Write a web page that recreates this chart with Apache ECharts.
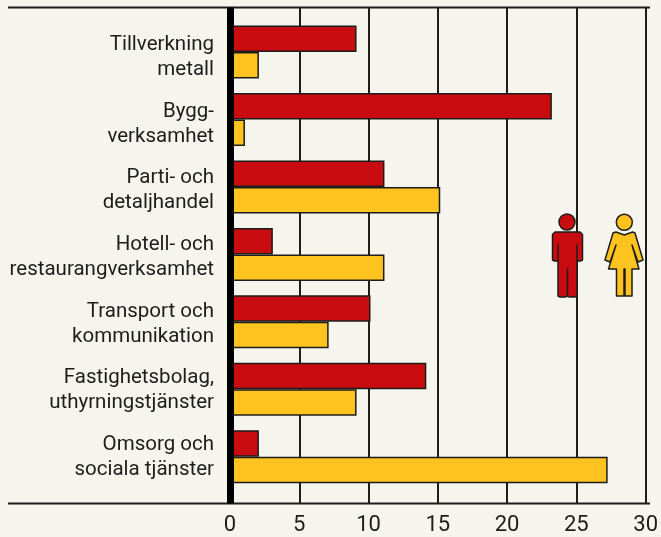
<!DOCTYPE html>
<html>
<head>
<meta charset="utf-8">
<style>
html, body { margin: 0; padding: 0; background: #f5f5ee; }
#chart { width: 661px; height: 537px; }
</style>
</head>
<body>
<div id="chart"></div>
<script src="https://cdn.jsdelivr.net/npm/echarts@6/dist/echarts.min.js"></script>
<script>
const categories = [
    'Tillverkning\nmetall',
    'Bygg-\nverksamhet',
    'Parti- och\ndetaljhandel',
    'Hotell- och\nrestaurangverksamhet',
    'Transport och\nkommunikation',
    'Fastighetsbolag,\nuthyrningstjänster',
    'Omsorg och\nsociala tjänster'
];
const men = [9, 23, 11, 3, 10, 14, 2];
const women = [2, 1, 15, 11, 7, 9, 27];

const RED = '#c90c0f';
const YELLOW = '#fec31f';
const INK = '#1d1d1b';
const FONT = 'Roboto';

const barStyle = color => ({ color: color, borderColor: INK, borderWidth: 1.5 });
const iconStyle = color => ({ fill: color, stroke: INK, lineWidth: 1.5, lineJoin: 'round' });

let myChart = echarts.init(document.getElementById('chart'));

myChart.setOption({
    animation: false,
    backgroundColor: '#f5f5ee',
    // grid 0: frame and ticks, grid 1: bars, grid 2: category labels (their spacing differs a little from the bars)
    grid: [
        { left: 230, width: 419.5, top: 7.5, height: 496 },
        { left: 231, width: 418.5, top: 18.4, height: 472 },
        { left: 230, width: 419.5, top: 24, height: 466.7 }
    ],
    xAxis: [{
        gridIndex: 0,
        type: 'value',
        min: 0,
        max: 30,
        interval: 5,
        axisLine: { show: false },
        axisTick: { show: false },
        axisLabel: {
            show: true,
            fontFamily: FONT,
            fontSize: 22,
            color: INK,
            margin: 11,
            hideOverlap: false
        },
        splitLine: { show: true, lineStyle: { color: INK, width: 2 } }
    }, {
        gridIndex: 1,
        type: 'value',
        min: 0,
        max: 30,
        show: false
    }, {
        gridIndex: 2,
        type: 'value',
        min: 0,
        max: 30,
        show: false
    }],
    yAxis: [{
        gridIndex: 0,
        type: 'value',
        z: 5,
        axisLine: { show: true, onZero: false, lineStyle: { color: '#000', width: 7, cap: 'butt' } },
        axisTick: { show: false },
        axisLabel: { show: false },
        splitLine: { show: false }
    }, {
        gridIndex: 1,
        type: 'category',
        inverse: true,
        data: categories,
        axisLine: { show: false },
        axisTick: { show: false },
        axisLabel: { show: false },
        splitLine: { show: false }
    }, {
        gridIndex: 2,
        type: 'category',
        inverse: true,
        data: categories,
        axisLine: { show: false },
        axisTick: { show: false },
        splitLine: { show: false },
        axisLabel: {
            fontFamily: FONT,
            fontSize: 20.5,
            lineHeight: 25,
            color: INK,
            align: 'right',
            margin: 16,
            interval: 0
        }
    }],
    series: [{
        name: 'Män',
        type: 'bar',
        xAxisIndex: 1,
        yAxisIndex: 1,
        barWidth: 26.5,
        barGap: 0,
        itemStyle: barStyle(RED),
        data: men
    }, {
        name: 'Kvinnor',
        type: 'bar',
        xAxisIndex: 1,
        yAxisIndex: 1,
        barWidth: 26.5,
        barGap: 0,
        itemStyle: barStyle(YELLOW),
        data: women
    }],
    graphic: [
        // top and bottom rules run out past the plot area
        { type: 'line', shape: { x1: 8, y1: 7.5, x2: 650, y2: 7.5 }, style: { stroke: INK, lineWidth: 2 } },
        { type: 'line', shape: { x1: 8, y1: 503.5, x2: 650, y2: 503.5 }, style: { stroke: INK, lineWidth: 2 } },
        // man
        { type: 'circle', z: 10, shape: { cx: 567, cy: 222, r: 8 }, style: iconStyle(RED) },
        {
            type: 'polygon', z: 10,
            shape: { points: [[555, 232], [580, 232], [582.5, 234.5], [582.5, 260], [580.5, 261], [577, 261], [577, 245], [577, 261], [577, 296], [575, 297], [569.5, 297], [567.5, 296], [567.5, 269], [567.5, 296], [565.5, 297], [560, 297], [558, 296], [558, 261], [558, 245], [558, 261], [554.5, 261], [552.5, 260], [552.5, 234.5]] },
            style: iconStyle(RED)
        },
        // woman
        { type: 'circle', z: 10, shape: { cx: 624.3, cy: 222.3, r: 8 }, style: iconStyle(YELLOW) },
        {
            type: 'polygon', z: 10,
            shape: { points: [[616, 232], [624.3, 235], [632.5, 232], [635, 233], [643, 260], [638, 262], [632, 245], [639, 269], [632, 269], [632, 296], [625, 296], [625, 269], [624, 269], [624, 296], [616.5, 296], [616.5, 269], [608.5, 269], [616, 245], [610, 262], [605, 260], [613, 233]] },
            style: iconStyle(YELLOW)
        }
    ]
});
</script>
</body>
</html>
